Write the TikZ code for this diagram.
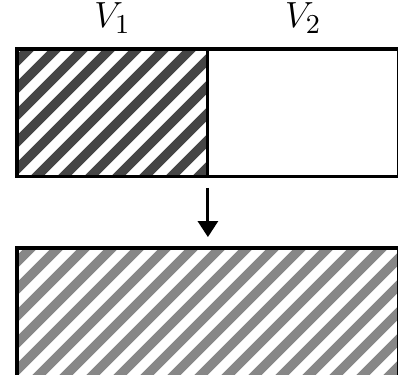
\documentclass[tikz,border=0pt]{standalone}
\usepackage{amsmath,amssymb}
\usepackage{tikz}
\usetikzlibrary{arrows.meta,positioning,backgrounds}

\definecolor{stripedark}{gray}{0.27}
\definecolor{stripelight}{gray}{0.53}

\begin{document}
\begin{tikzpicture}[
  x=0.33pt,y=0.33pt,
  box/.style={draw,line width=1pt,inner sep=0pt,outer sep=0pt,anchor=north west},
  stripe/.style={line width=3.1pt,color=#1},
  arr/.style={-{Triangle[length=5.3pt,width=6.6pt]},line width=1pt},
  lbl/.style={font=\fontsize{13}{15}\selectfont}
]
\useasboundingbox (0,0) rectangle (398,374);
\clip (0,0) rectangle (398,374);
\node[box,minimum width=63pt,minimum height=42.2pt] (v1) at (17,325) {};
\node[box,minimum width=63pt,minimum height=42.2pt] (v2) at (v1.north east) {};
\node[box,minimum width=126pt,minimum height=70pt] (w) at (17,126) {};
\node[lbl,above=1.7pt of v1] (l1) {$V_1$};
\node[lbl,above=1.7pt of v2] (l2) {$V_2$};
\draw[arr,shorten <=3.6pt,shorten >=3.6pt] (v1.south east) -- (v1.south east |- w.north);

% hatching behind the boxes
\begin{scope}[on background layer]
  \begin{scope}
    \clip (v1.south west) rectangle (v1.north east);
    \foreach \c in {-136,-109,...,242}
      \draw[stripe=stripedark] (\c,187) -- ++(148,148);
  \end{scope}
  \begin{scope}
    \clip (17,0) rectangle (398,126);
    \foreach \c in {-132,-105,...,435}
      \draw[stripe=stripelight] (\c,-10) -- ++(146,146);
  \end{scope}
\end{scope}
\end{tikzpicture}
\end{document}
